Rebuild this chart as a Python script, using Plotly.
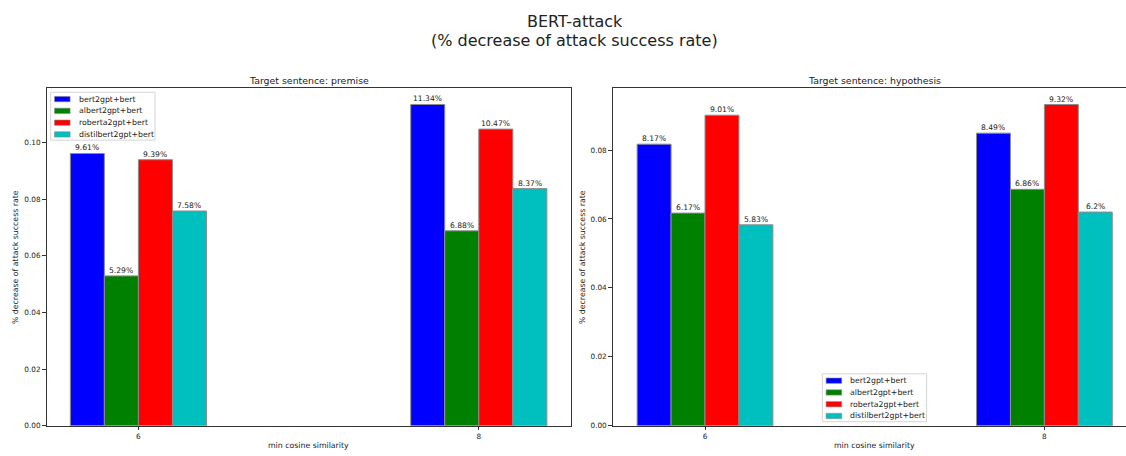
import plotly.graph_objects as go

# ---- data -------------------------------------------------------------
sim_thresholds = [6, 8]
tick_labels = ["6", "8"]

models = ["bert2gpt+bert", "albert2gpt+bert", "roberta2gpt+bert", "distilbert2gpt+bert"]
colors = ["#0000ff", "#008000", "#ff0000", "#00bfbf"]

premise_bert2gpt = [0.0961, 0.1134]
premise_albert2gpt = [0.0529, 0.0688]
premise_roberta2gpt = [0.0939, 0.1047]
premise_distilbert2gpt = [0.0758, 0.0837]

hypothesis_bert2gpt = [0.0817, 0.0849]
hypothesis_albert2gpt = [0.0617, 0.0686]
hypothesis_roberta2gpt = [0.0901, 0.0932]
hypothesis_distilbert2gpt = [0.0583, 0.0620]

premise_ticks = [0.0, 0.02, 0.04, 0.06, 0.08, 0.10]
hypothesis_ticks = [0.0, 0.02, 0.04, 0.06, 0.08]

premise_series = [premise_bert2gpt, premise_albert2gpt, premise_roberta2gpt, premise_distilbert2gpt]
hypothesis_series = [hypothesis_bert2gpt, hypothesis_albert2gpt, hypothesis_roberta2gpt, hypothesis_distilbert2gpt]

# ---- geometry ---------------------------------------------------------
W, H = 1126, 456
FONT = "DejaVu Sans"
BAR_W = 0.2


def px(x):
    return x / W


def py(y):
    return 1 - y / H


def pct_label(v):
    return f"{round(v * 100, 2)}%"


fig = go.Figure()
annotations = []
shapes = []

panels = [
    (premise_series, "x", "y"),
    (hypothesis_series, "x2", "y2"),
]
for series, xa, ya in panels:
    for i, (name, vals) in enumerate(zip(models, series)):
        offset = -2 * BAR_W + i * BAR_W
        fig.add_trace(go.Bar(
            x=sim_thresholds,
            y=vals,
            name=name,
            width=BAR_W,
            offset=offset,
            marker=dict(color=colors[i], line=dict(color="#8c8c8c", width=1)),
            showlegend=False,
            xaxis=xa,
            yaxis=ya,
        ))
        # value labels sitting right on top of each bar
        for t, v in zip(sim_thresholds, vals):
            annotations.append(dict(
                x=t + offset + BAR_W / 2, y=v, xref=xa, yref=ya,
                text=pct_label(v), showarrow=False,
                xanchor="center", yanchor="bottom", borderpad=0,
                font=dict(family=FONT, size=7.6, color="#222"),
            ))

axis_common = dict(
    showline=True, linecolor="#333", linewidth=1,
    ticks="outside", ticklen=3.5, tickwidth=0.8, tickcolor="#333",
    showgrid=False, zeroline=False,
    tickfont=dict(family=FONT, size=7.3, color="#222"),
)

y_dom = [py(430.5), py(89.3)]

fig.update_layout(
    width=W, height=H,
    margin=dict(l=0, r=0, t=0, b=0),
    paper_bgcolor="white", plot_bgcolor="white",
    barmode="overlay",
    font=dict(family=FONT, color="#222"),
    xaxis=dict(domain=[px(46.5), px(570.7)], range=[5.46, 8.54], anchor="y",
               tickvals=sim_thresholds, ticktext=tick_labels, mirror=True, **axis_common),
    yaxis=dict(domain=y_dom, range=[0, 0.1191], anchor="x",
               tickvals=premise_ticks, tickformat=".2f", mirror=True, **axis_common),
    xaxis2=dict(domain=[px(612.7), 1], range=[5.456, 8.481], anchor="y2",
                tickvals=sim_thresholds, ticktext=tick_labels, mirror=True, **axis_common),
    yaxis2=dict(domain=y_dom, range=[0, 0.0979], anchor="x2",
                tickvals=hypothesis_ticks, tickformat=".2f", mirror=False, **axis_common),
)


def text(x, y, s, size, **kw):
    annotations.append(dict(
        x=px(x), y=py(y), xref="paper", yref="paper", text=s, showarrow=False,
        font=dict(family=FONT, size=size, color=kw.pop("color", "#222")),
        xanchor=kw.pop("xanchor", "center"), yanchor=kw.pop("yanchor", "middle"), **kw))


# figure title
text(574.5, 22, "BERT-attack", 16)
text(574.5, 40.5, "(% decrease of attack success rate)", 16)

# panel titles
text(308.6, 81.7, "Target sentence: premise", 9.4)
text(874.3, 81.7, "Target sentence: hypothesis", 9.4)

# axis titles
text(308.6, 450.5, "min cosine similarity", 7.8)
text(874.3, 450.5, "min cosine similarity", 7.8)
text(15, 259.9, "% decrease of attack success rate", 7.8, textangle=-90)
text(582, 259.9, "% decrease of attack success rate", 7.8, textangle=-90)


def add_legend(x0, y0):
    w, h = 104.3, 48.4
    shapes.append(dict(type="rect", xref="paper", yref="paper",
                       x0=px(x0), x1=px(x0 + w), y0=py(y0 + h), y1=py(y0),
                       fillcolor="rgba(255,255,255,0.8)", line=dict(color="#d4d4d4", width=1)))
    for k, (name, col) in enumerate(zip(models, colors)):
        cy = y0 + 6.9 + k * 11.9
        shapes.append(dict(type="rect", xref="paper", yref="paper",
                           x0=px(x0 + 3.8), x1=px(x0 + 19.4), y0=py(cy + 2.7), y1=py(cy - 2.7),
                           fillcolor=col, line=dict(color="#8c8c8c", width=0.6)))
        text(x0 + 25.8, cy, name, 7.8, xanchor="left")


add_legend(50.7, 93.3)
add_legend(822.3, 378.0)

fig.update_layout(annotations=annotations, shapes=shapes)

fig.write_html("out.html")
